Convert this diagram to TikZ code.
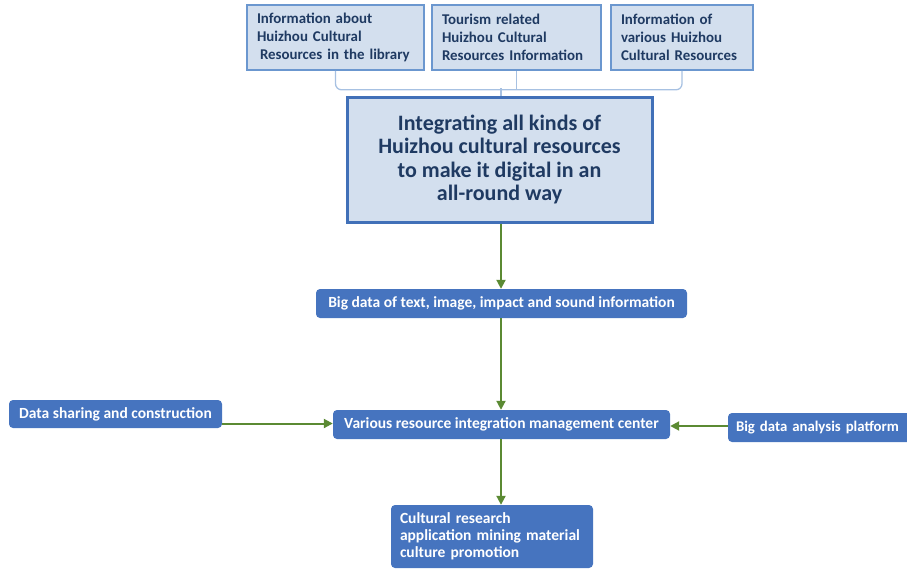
\documentclass[tikz,border=0pt]{standalone}
\usepackage{fontspec}
\setmainfont{Carlito}
\usetikzlibrary{arrows.meta,calc}
\definecolor{lightfill}{HTML}{D3DFEE}
\definecolor{topborder}{HTML}{6B97CF}
\definecolor{bigborder}{HTML}{4170B8}
\definecolor{darktext}{HTML}{1F3A62}
\definecolor{bluefill}{HTML}{4674BF}
\definecolor{arrowgreen}{HTML}{5B8A33}
\definecolor{bracecol}{HTML}{A7C1E2}
\tikzset{
  topbox/.style={draw=topborder, line width=1.6pt, fill=lightfill, text=darktext,
    font=\fontsize{14.9}{18}\selectfont\bfseries, align=left, anchor=center,
    inner xsep=10pt, inner ysep=0pt, minimum height=65pt},
  bigbox/.style={draw=bigborder, line width=3pt, fill=lightfill, text=darktext,
    font=\fontsize{22}{23.5}\selectfont\bfseries, align=center,
    minimum width=305pt, minimum height=125pt, inner sep=0pt},
  bluebox/.style={fill=bluefill, rounded corners=4pt, text=white,
    font=\fontsize{15.5}{17}\selectfont\bfseries, inner sep=0pt},
  garrow/.style={draw=arrowgreen, line width=2pt, -{Triangle[length=9pt,width=9pt]}},
  bracel/.style={draw=bracecol, line width=1.3pt, rounded corners=6pt}
}
\begin{document}
\begin{tikzpicture}[x=1pt,y=-1pt]
\useasboundingbox (0,0) rectangle (907,570);
% top boxes
\node[topbox, text width=157pt] (b1) at (335.5,37.5) {Information about\\Huizhou Cultural\\\hspace*{3pt}Resources in the library};
\node[topbox, text width=149pt] (b2) at (516.5,37.5) {Tourism related\\Huizhou Cultural\\Resources Information};
\node[topbox, text width=122pt] (b3) at (682,37.5) {Information of\\various Huizhou\\Cultural Resources};
% big box
\node[bigbox] (big) at (499.5,159.5) {Integrating all kinds of\\Huizhou cultural resources\\to make it digital in an\\all-round way};
% brace
\draw[bracel] (b1.south) -- ++(0,19) -| (b3.south);
\draw[bracel] (b2.south) -- ++(0,19);
\draw[bracecol, line width=1.3pt] (big.north -| 501,0) -- ++(0,-8);
% blue boxes
\node[bluebox, minimum width=371pt, minimum height=29pt] (bd) at (501.5,303.5) {Big data of text, image, impact and sound information};
\node[bluebox, minimum width=337pt, minimum height=29pt] (mid) at (501.5,424.5) {Various resource integration management center};
\node[bluebox, minimum width=213pt, minimum height=28pt] (left) at (115.5,414) {Data sharing and construction};
\node[bluebox, minimum width=224pt, minimum height=29pt, align=left, text width=208pt,
  font=\fontsize{14.8}{17}\selectfont\bfseries] (right) at (840,427.5) {Big data analysis platform};
\node[bluebox, minimum width=202pt, minimum height=63pt, align=left, text width=184pt] (bot) at (492,536.5) {Cultural research\\application mining material\\culture promotion};
% arrows
\draw[garrow] (big.south -| 501,0) -- (bd.north -| 501,0);
\draw[garrow] (bd.south -| 501,0) -- (mid.north -| 501,0);
\draw[garrow] (mid.south -| 501,0) -- (bot.north -| 501,0);
\draw[garrow] ($(mid.west -| left.east)+(0,-1)$) -- ($(mid.west)+(0,-1)$);
\draw[garrow] ($(mid.east -| right.west)+(0,1.5)$) -- ($(mid.east)+(0,1.5)$);
\end{tikzpicture}
\end{document}
